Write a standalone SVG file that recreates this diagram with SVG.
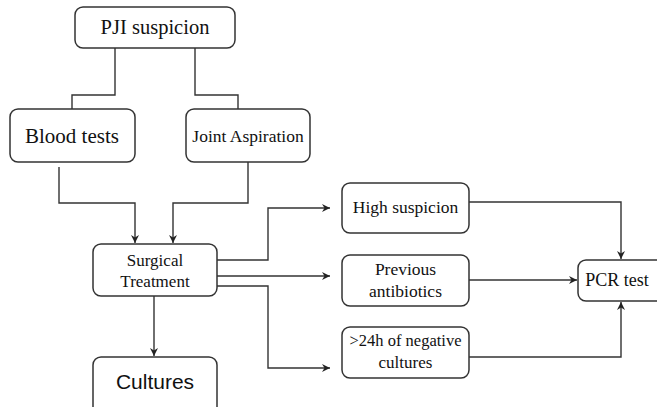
<svg xmlns="http://www.w3.org/2000/svg" width="657" height="407" viewBox="0 0 657 407">
<defs>
<marker id="ah" markerWidth="10" markerHeight="10" refX="9" refY="5" orient="auto" markerUnits="userSpaceOnUse">
<path d="M1,1 L9,5 L1,9 L3.5,5 Z" fill="#222"/>
</marker>
<style>
.box{fill:#fff;stroke:#333;stroke-width:1.5}
.t{font-family:'Liberation Serif','Times New Roman','DejaVu Serif',serif;fill:#111;text-anchor:middle}
.s{font-family:'Liberation Sans',Arial,sans-serif;fill:#111;text-anchor:middle}
.c{fill:none;stroke:#333;stroke-width:1.4}
.a{marker-end:url(#ah)}
</style>
</defs>
<rect width="657" height="407" fill="#fff"/>
<g id="connectors">
<path class="c" d="M115,48 V95 H72 V109"/>
<path class="c" d="M195,48 V95 H238 V109"/>
<path class="c a" d="M59,167 V203 H135 V243"/>
<path class="c a" d="M248,162 V203 H173 V243"/>
<path class="c a" d="M154,296 V356"/>
<path class="c a" d="M217,260 H268 V208 H330"/>
<path class="c a" d="M217,276 H330"/>
<path class="c a" d="M217,286 H268 V368 H330"/>
<path class="c a" d="M469,202 H621 V259"/>
<path class="c a" d="M469,280 H577"/>
<path class="c a" d="M469,357 H621 V302"/>
</g>
<g id="pji"><rect class="box" x="75" y="7" width="160" height="41" rx="8"/><text class="t" x="155" y="34" font-size="20.5">PJI suspicion</text></g>
<g id="blood"><rect class="box" x="10" y="109" width="125" height="53" rx="8"/><text class="t" x="72" y="143" font-size="21">Blood tests</text></g>
<g id="joint"><rect class="box" x="186" y="109" width="124" height="53" rx="8"/><text class="t" x="248" y="142" font-size="17.5">Joint Aspiration</text></g>
<g id="surgical"><rect class="box" x="93" y="244" width="124" height="52" rx="8"/><text class="t" x="155" y="266" font-size="17">Surgical</text><text class="t" x="155" y="287" font-size="17">Treatment</text></g>
<g id="cultures"><rect class="box" x="93" y="357" width="124" height="60" rx="8"/><text class="s" x="155" y="389" font-size="21">Cultures</text></g>
<g id="high"><rect class="box" x="342" y="183" width="127" height="50" rx="8"/><text class="t" x="405.5" y="213" font-size="17.5">High suspicion</text></g>
<g id="prev"><rect class="box" x="342" y="255" width="127" height="51" rx="8"/><text class="t" x="405.5" y="275" font-size="17.5">Previous</text><text class="t" x="405.5" y="297" font-size="17.5">antibiotics</text></g>
<g id="neg"><rect class="box" x="342" y="327" width="127" height="51" rx="8"/><text class="t" x="405.5" y="346" font-size="16.5">&gt;24h of negative</text><text class="t" x="405.5" y="368" font-size="17">cultures</text></g>
<g id="pcr"><rect class="box" x="578" y="260" width="90" height="41" rx="8"/><text class="t" x="617" y="286" font-size="18">PCR test</text></g>
</svg>
